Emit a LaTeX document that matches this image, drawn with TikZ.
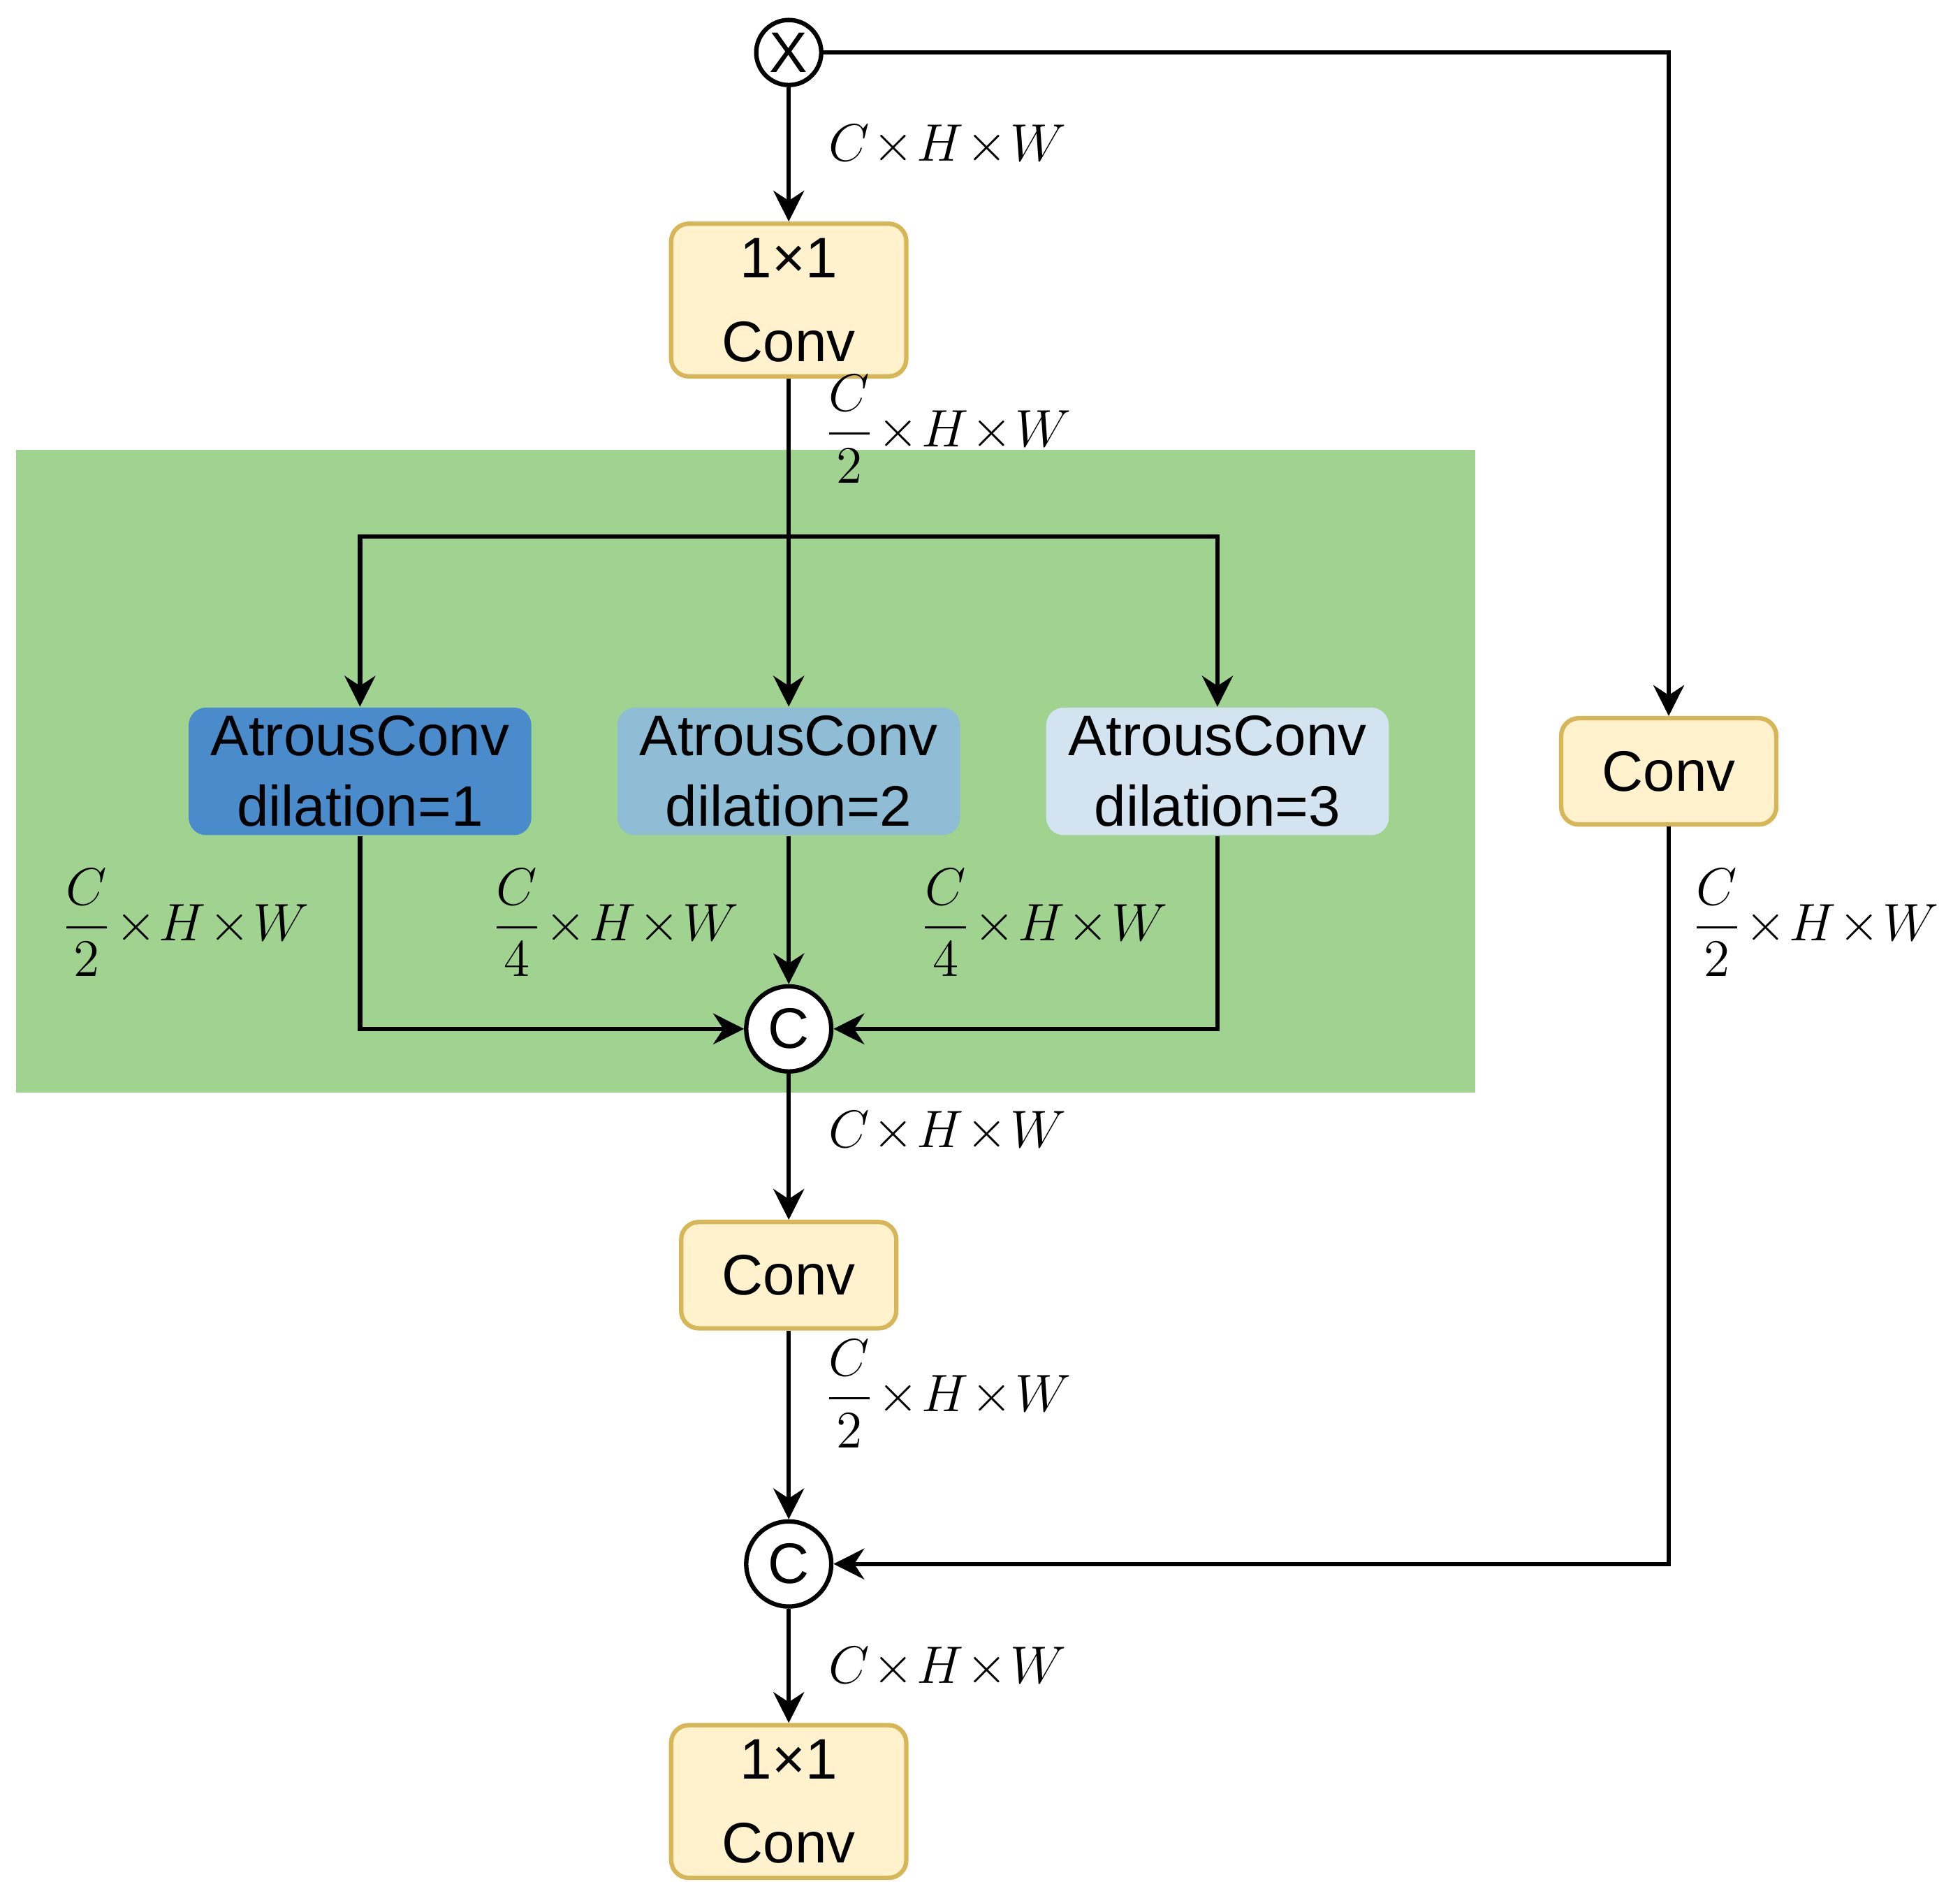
\documentclass[tikz,border=0pt]{standalone}
\usepackage{amsmath}
\usepackage{fontspec}
\setmainfont{Liberation Sans}
\usetikzlibrary{arrows.meta,positioning}
\definecolor{convfill}{HTML}{FFF2CC}
\definecolor{convdraw}{HTML}{D6B656}
\definecolor{greenbg}{HTML}{A0D390}
\definecolor{atrousa}{HTML}{4A8BCB}
\definecolor{atrousb}{HTML}{8FBDD6}
\definecolor{atrousc}{HTML}{D3E3EF}
\tikzset{
  conv/.style={draw=convdraw, fill=convfill, line width=1pt, rounded corners=4pt, align=center, font=\fontsize{13}{19}\selectfont},
  atrous/.style={rounded corners=4pt, minimum width=2.74cm, minimum height=1.02cm, align=center, font=\fontsize{13}{16}\selectfont, inner sep=0pt},
  op/.style={draw, circle, fill=white, line width=1pt, inner sep=0pt, font=\fontsize{13}{13}\selectfont},
  flow/.style={line width=1pt, -{Stealth[length=7pt,width=7pt]}},
  dim/.style={font=\fontsize{13}{13}\selectfont}
}
\begin{document}
\begin{tikzpicture}[x=0.01cm,y=-0.01cm]
    \useasboundingbox (0,0) rectangle (1568,1505);
    \fill[greenbg] (13,360) rectangle (1180,874);
    % main column
    \node[op, minimum size=0.52cm] (mul) at (631,42) {X};
    \node[conv, minimum width=1.88cm, minimum height=1.03cm] (convin) at (631,240) {1×1\\Conv};
    \node[atrous, fill=atrousa] (atr1) at (288,617) {AtrousConv\\dilation=1};
    \node[atrous, fill=atrousb] (atr2) at (631,617) {AtrousConv\\dilation=2};
    \node[atrous, fill=atrousc] (atr3) at (974,617) {AtrousConv\\dilation=3};
    \node[op, minimum size=0.68cm] (cat1) at (631,823) {C};
    \node[conv, minimum width=1.72cm, minimum height=0.85cm] (convmid) at (631,1020) {Conv};
    \node[op, minimum size=0.68cm] (cat2) at (631,1251) {C};
    \node[conv, minimum width=1.88cm, minimum height=1.03cm] (convout) at (631,1441) {1×1\\Conv};
    \node[conv, minimum width=1.72cm, minimum height=0.85cm] (convside) at (1335,617) {Conv};
    \coordinate (split) at (631,429);
    % connectors
    \draw[flow] (mul) -- (convin);
    \draw[flow] (convin) -- (atr2);
    \draw[flow] (split) -| (atr1);
    \draw[flow] (split) -| (atr3);
    \draw[flow] (atr1) |- (cat1);
    \draw[flow] (atr2) -- (cat1);
    \draw[flow] (atr3) |- (cat1);
    \draw[flow] (cat1) -- (convmid);
    \draw[flow] (convmid) -- (cat2);
    \draw[flow] (cat2) -- (convout);
    \draw[flow] (mul) -| (convside);
    \draw[flow] (convside) |- (cat2);
    % sizes
    \node[dim] at (758,116) {$C\!\times\!H\!\times\!W$};
    \node[dim] at (758,343) {$\dfrac{C}{2}\!\times\!H\!\times\!W$};
    \node[dim] at (148,738) {$\dfrac{C}{2}\!\times\!H\!\times\!W$};
    \node[dim] at (492,738) {$\dfrac{C}{4}\!\times\!H\!\times\!W$};
    \node[dim] at (835,738) {$\dfrac{C}{4}\!\times\!H\!\times\!W$};
    \node[dim] at (758,905) {$C\!\times\!H\!\times\!W$};
    \node[dim] at (758,1115) {$\dfrac{C}{2}\!\times\!H\!\times\!W$};
    \node[dim] at (758,1334) {$C\!\times\!H\!\times\!W$};
    \node[dim] at (1452,738) {$\dfrac{C}{2}\!\times\!H\!\times\!W$};
\end{tikzpicture}
\end{document}
